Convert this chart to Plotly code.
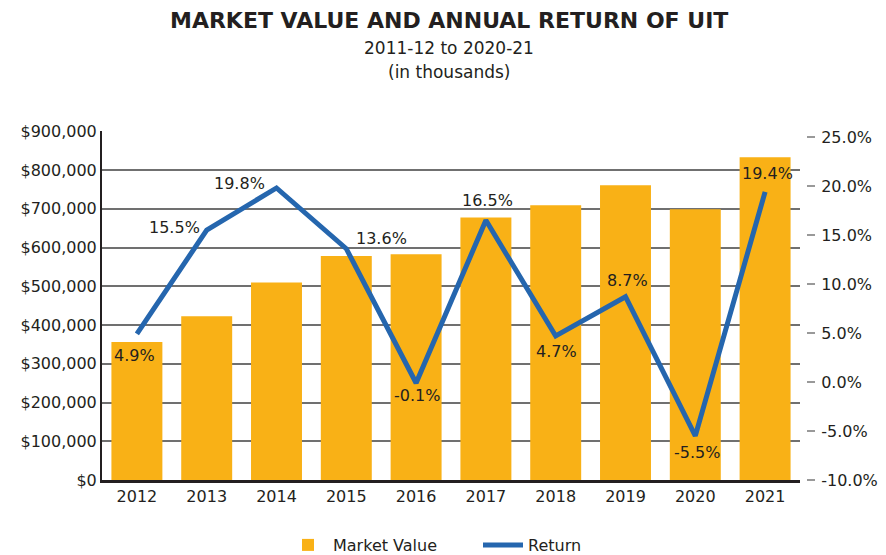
import plotly.graph_objects as go

years = ["2012", "2013", "2014", "2015", "2016", "2017", "2018", "2019", "2020", "2021"]
market_value = [356000, 423000, 510000, 578000, 583000, 678000, 709000, 761000, 699000, 833000]
returns = [4.9, 15.5, 19.8, 13.6, -0.1, 16.5, 4.7, 8.7, -5.5, 19.4]
return_labels = ["4.9%", "15.5%", "19.8%", "13.6%", "-0.1%", "16.5%", "4.7%", "8.7%", "-5.5%", "19.4%"]
pct_ticks = [-10, -5, 0, 5, 10, 15, 20, 25]
pct_tick_labels = ["-10.0%", "-5.0%", "0.0%", "5.0%", "10.0%", "15.0%", "20.0%", "25.0%"]

# label offsets (pixels) relative to each point
label_dx = [-2, -32, -37, 35, 1, 2, 1, 2, 2, 2]
label_dy = [-22, 3, 4, 10, -13, 20, -16, 16, -17, 18]

FONT = "DejaVu Sans, Verdana, sans-serif"
TXT = "#231f20"

fig = go.Figure()
fig.add_trace(go.Bar(
    x=years, y=market_value, name="Market Value",
    marker=dict(color="#F9B116", line=dict(width=0)),
    yaxis="y", hoverinfo="skip",
))
fig.add_trace(go.Scatter(
    x=years, y=returns, name="Return", mode="lines",
    line=dict(color="#2566AE", width=5),
    yaxis="y2", cliponaxis=False,
))

for i, (yv, lab, dx, dy) in enumerate(zip(returns, return_labels, label_dx, label_dy)):
    fig.add_annotation(x=i, y=yv, xref="x", yref="y2", text=lab, showarrow=False,
                       xshift=dx, yshift=dy, font=dict(family=FONT, size=16, color=TXT))

# page has an 8px body margin, so the figure is 8px smaller than the window
w, h = 878, 547
off = 8
l, r, t, b = 102 - off, 80, 131 - off, h - (480 - off)
plot_w = w - l - r
plot_h = h - t - b
xdom_end = (800 - off - l) / plot_w

fig.update_layout(
    width=w, height=h,
    margin=dict(l=l, r=r, t=t, b=b, autoexpand=False),
    paper_bgcolor="white", plot_bgcolor="white",
    font=dict(family=FONT, size=16, color=TXT),
    bargap=0.27,
    showlegend=True,
    legend=dict(orientation="h", x=0.5 + 24 / plot_w, xanchor="center", yref="container",
                y=(h - (545 - off)) / h, yanchor="middle",
                font=dict(size=16), itemwidth=40, traceorder="normal", entrywidth=140),
    xaxis=dict(type="category", range=[-0.5, len(years) - 0.5], autorange=False,
               domain=[0, xdom_end], showline=True, linecolor="#231f20",
               linewidth=3, ticks="", showgrid=False, tickfont=dict(size=16), automargin=False),
    yaxis=dict(range=[0, 901000], dtick=100000, tickprefix="$", tickformat=",",
               showgrid=True, gridcolor="#707070", gridwidth=1.5,
               showline=True, linecolor="#231f20", linewidth=2,
               ticks="", zeroline=False, tickfont=dict(size=16), automargin=False),
    yaxis2=dict(overlaying="y", side="right", anchor="free", position=1.0,
                range=[-10, 25 + 6 / 49 * 5], tickmode="array",
                tickvals=pct_ticks, ticktext=pct_tick_labels,
                showgrid=False, zeroline=False, showline=False,
                ticks="outside", ticklen=8, tickwidth=1.5, tickcolor="#999999",
                ticklabelstandoff=3,
                tickfont=dict(size=16), automargin=False),
)

cx = (449 - off - l) / plot_w
ybase = 480 - off
fig.add_annotation(text="<b>MARKET VALUE AND ANNUAL RETURN OF UIT</b>", xref="paper", yref="paper",
                   x=cx, y=(ybase - (21 - off)) / plot_h, showarrow=False,
                   font=dict(size=22, color=TXT), xanchor="center", yanchor="middle")
fig.add_annotation(text="2011-12 to 2020-21", xref="paper", yref="paper",
                   x=cx, y=(ybase - (48 - off)) / plot_h, showarrow=False,
                   font=dict(size=17, color=TXT), xanchor="center", yanchor="middle")
fig.add_annotation(text="(in thousands)", xref="paper", yref="paper",
                   x=cx, y=(ybase - (72 - off)) / plot_h, showarrow=False,
                   font=dict(size=17, color=TXT), xanchor="center", yanchor="middle")

fig.write_html("out.html")
